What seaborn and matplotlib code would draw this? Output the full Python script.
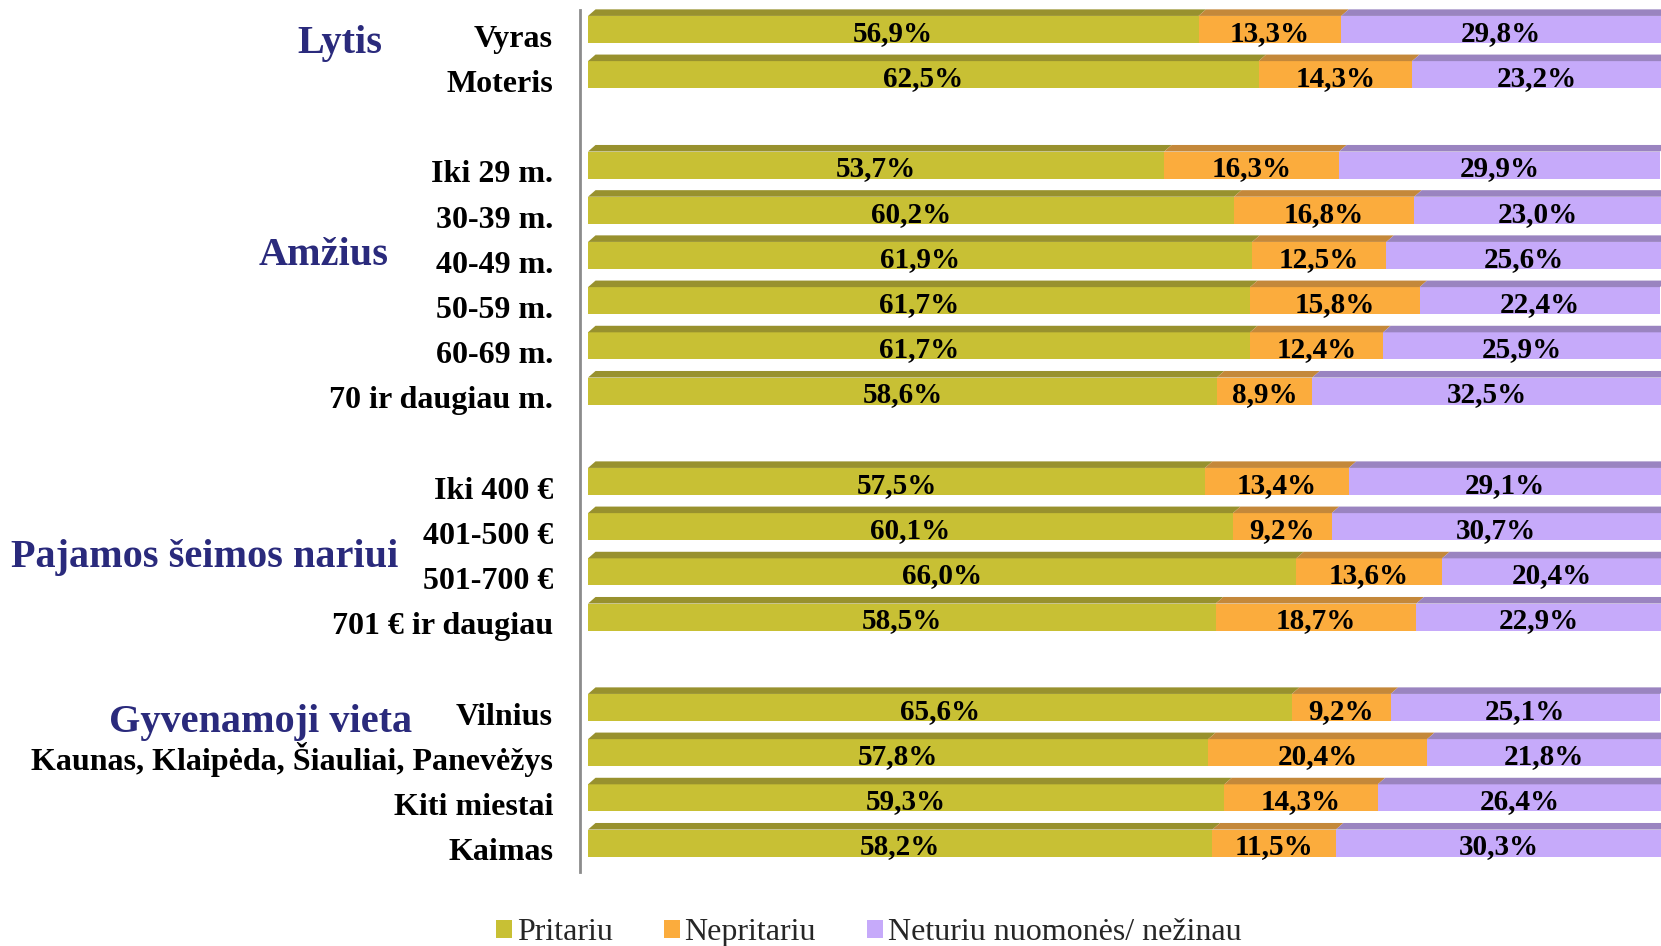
import matplotlib
matplotlib.use("Agg")
import matplotlib.pyplot as plt
from matplotlib.patches import Patch, Polygon
import seaborn as sns

# Survey answers by respondent group (percent)
group_names = ["Lytis", "Amžius", "Pajamos šeimos nariui", "Gyvenamoji vieta"]
group_sizes = [2, 6, 4, 4]
row_labels = [
    "Vyras", "Moteris",
    "Iki 29 m.", "30-39 m.", "40-49 m.", "50-59 m.", "60-69 m.", "70 ir daugiau m.",
    "Iki 400 €", "401-500 €", "501-700 €", "701 € ir daugiau",
    "Vilnius", "Kaunas, Klaipėda, Šiauliai, Panevėžys", "Kiti miestai", "Kaimas",
]
pritariu = [56.9, 62.5, 53.7, 60.2, 61.9, 61.7, 61.7, 58.6, 57.5, 60.1, 66.0, 58.5, 65.6, 57.8, 59.3, 58.2]
nepritariu = [13.3, 14.3, 16.3, 16.8, 12.5, 15.8, 12.4, 8.9, 13.4, 9.2, 13.6, 18.7, 9.2, 20.4, 14.3, 11.5]
nezinau = [29.8, 23.2, 29.9, 23.0, 25.6, 22.4, 25.9, 32.5, 29.1, 30.7, 20.4, 22.9, 25.1, 21.8, 26.4, 30.3]
series_names = ["Pritariu", "Nepritariu", "Neturiu nuomonės/ nežinau"]

front_colors = ["#C8C034", "#FBAC3D", "#C6AAFA"]
top_colors = ["#98912E", "#C4883A", "#9A84C0"]
navy = "#2A2A7C"

# slot positions, one empty slot between groups
slots = []
start = 0
for size in group_sizes:
    slots.extend(range(start, start + size))
    start += size + 1

sns.set_style("white")
plt.rcParams["font.family"] = ["Liberation Serif", "DejaVu Serif"]

fig = plt.figure(figsize=(16.61, 9.46), dpi=100)
ax = fig.add_axes([0.3492, 0.0782, 1 - 0.3492, 0.98943 - 0.0782])

cum1 = list(pritariu)
cum2 = [p + n for p, n in zip(pritariu, nepritariu)]
cum3 = [p + n + z for p, n, z in zip(pritariu, nepritariu, nezinau)]

bar_w = 0.6
for vals, col in zip([cum3, cum2, cum1], front_colors[::-1]):
    sns.barplot(x=vals, y=slots, orient="h", native_scale=True, color=col,
                saturation=1, width=bar_w, linewidth=0, errorbar=None, ax=ax)

# top bevel of each segment
dx, dh = 0.7, 0.145
for i, s in enumerate(slots):
    edges = [0, cum1[i], cum2[i], cum3[i]]
    yt = s - bar_w / 2
    for k in range(3):
        l, r = edges[k], edges[k + 1]
        poly = Polygon([(l, yt), (r, yt), (r + dx, yt - dh), (l + dx, yt - dh)],
                       closed=True, facecolor=top_colors[k], edgecolor="none",
                       clip_on=False)
        ax.add_patch(poly)
    # value labels
    vals = [pritariu[i], nepritariu[i], nezinau[i]]
    for k in range(3):
        mid = edges[k] + vals[k] / 2
        ax.text(mid, s + 0.25, f"{vals[k]:.1f}%".replace(".", ","),
                ha="center", va="baseline", fontsize=21, fontweight="bold",
                color="black")
    ax.text(-3.26, s + 0.385, row_labels[i], ha="right", va="baseline",
            fontsize=23, fontweight="bold", color="black", clip_on=False)

ax.set_xlim(-0.745, 100)
ax.set_ylim(18.64, -0.431)
ax.set_xticks([])
ax.set_yticks([])
ax.set_xlabel("")
ax.set_ylabel("")
for side in ["top", "right", "bottom"]:
    ax.spines[side].set_visible(False)
ax.spines["left"].set_color("#8c8c8c")
ax.spines["left"].set_linewidth(2)

# group titles
group_pos = [(339.5, 53), (324, 265), (205, 567), (261, 732)]
for name, (px, py) in zip(group_names, group_pos):
    fig.text(px / 1661, 1 - py / 946, name, ha="center", va="baseline",
             fontsize=29, fontweight="bold", color=navy)

handles = [Patch(facecolor=c, edgecolor="none", label=n)
           for c, n in zip(front_colors, series_names)]
fig.legend(handles=handles, loc="center", bbox_to_anchor=(0.523, 0.014),
           ncol=3, frameon=False, fontsize=23, handlelength=0.5,
           handleheight=0.5, handletextpad=0.15, columnspacing=1.6,
           borderpad=0.0)

fig.savefig("out.png", dpi=100)
